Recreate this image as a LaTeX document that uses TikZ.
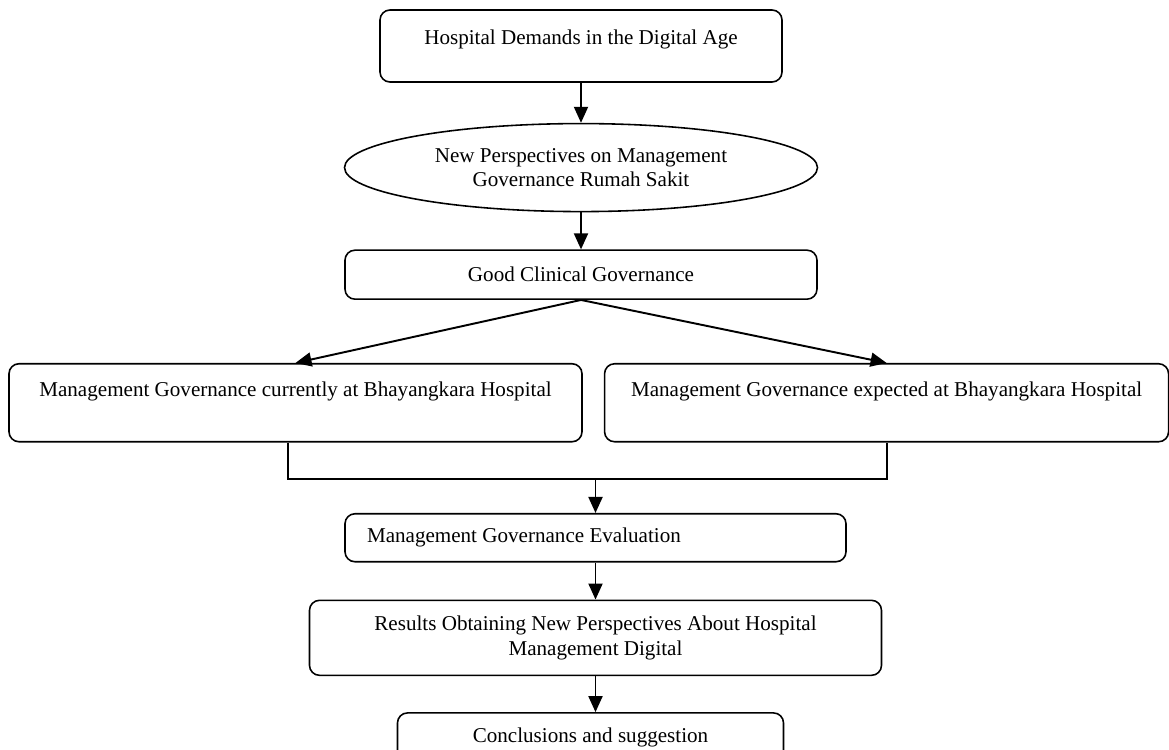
\documentclass[tikz,border=0pt]{standalone}
\usepackage{fontspec}
\setmainfont{Liberation Serif}
\usetikzlibrary{positioning,shapes.geometric,arrows.meta}

\begin{document}
\begin{tikzpicture}[>={Triangle[length=3.2mm,width=2.8mm]},
    box/.style = {draw, rounded corners=2mm, line width=0.9pt, align=center, inner sep=0pt, font=\fontsize{12}{13.8}\selectfont},
    oval/.style = {draw, ellipse, line width=0.9pt, align=center, inner sep=0pt, font=\fontsize{12}{13.8}\selectfont},
    link/.style = {->, line width=1.1pt}]
    \useasboundingbox (0,0) rectangle (23.38,-14.98);
    \node[box, minimum width=8.04cm, minimum height=1.44cm, text depth=0.37cm] (hda) at (11.62,-0.92) {Hospital Demands in the Digital Age};
    \node[oval, minimum width=9.46cm, minimum height=1.76cm] (npr) [below=0.8cm of hda] {New Perspectives on Management\\Governance Rumah Sakit};
    \node[box, minimum width=9.44cm, minimum height=0.98cm] (gcg) [below=0.74cm of npr] {Good Clinical Governance};
    \node[box, minimum width=11.46cm, minimum height=1.56cm, text depth=0.53cm] (cur) [below=1.26cm of gcg, xshift=-5.71cm] {Management Governance currently at Bhayangkara Hospital};
    \node[box, minimum width=11.28cm, minimum height=1.56cm, text depth=0.53cm] (exp) [right=0.42cm of cur] {Management Governance expected at Bhayangkara Hospital};
    \node[box, text width=9.14cm, align=flush left, inner xsep=0.44cm, minimum height=0.96cm] (eval) [below=4.26cm of gcg, xshift=0.29cm] {Management Governance Evaluation};
    \node[box, minimum width=11.44cm, minimum height=1.5cm] (res) [below=0.74cm of eval] {Results Obtaining New Perspectives About Hospital\\Management Digital};
    \node[box, minimum width=7.72cm, minimum height=0.98cm] (conc) [below=0.72cm of res, xshift=-0.1cm] {Conclusions and suggestion};
    \coordinate[above=0.68cm of eval] (jn);
    % connectors
    \draw[link] (hda) -- (npr);
    \draw[link] (npr) -- (gcg);
    \draw[link] (gcg.south) -- (cur.north);
    \draw[link] (gcg.south) -- (exp.north);
    \draw[line width=1.1pt] ([xshift=-1.5mm]cur.south) |- (jn) -| (exp.south);
    \draw[link] (jn) -- (eval);
    \draw[link] (eval) -- (res);
    \draw[link] (res.south) -- (res.south |- conc.north);
\end{tikzpicture}
\end{document}
